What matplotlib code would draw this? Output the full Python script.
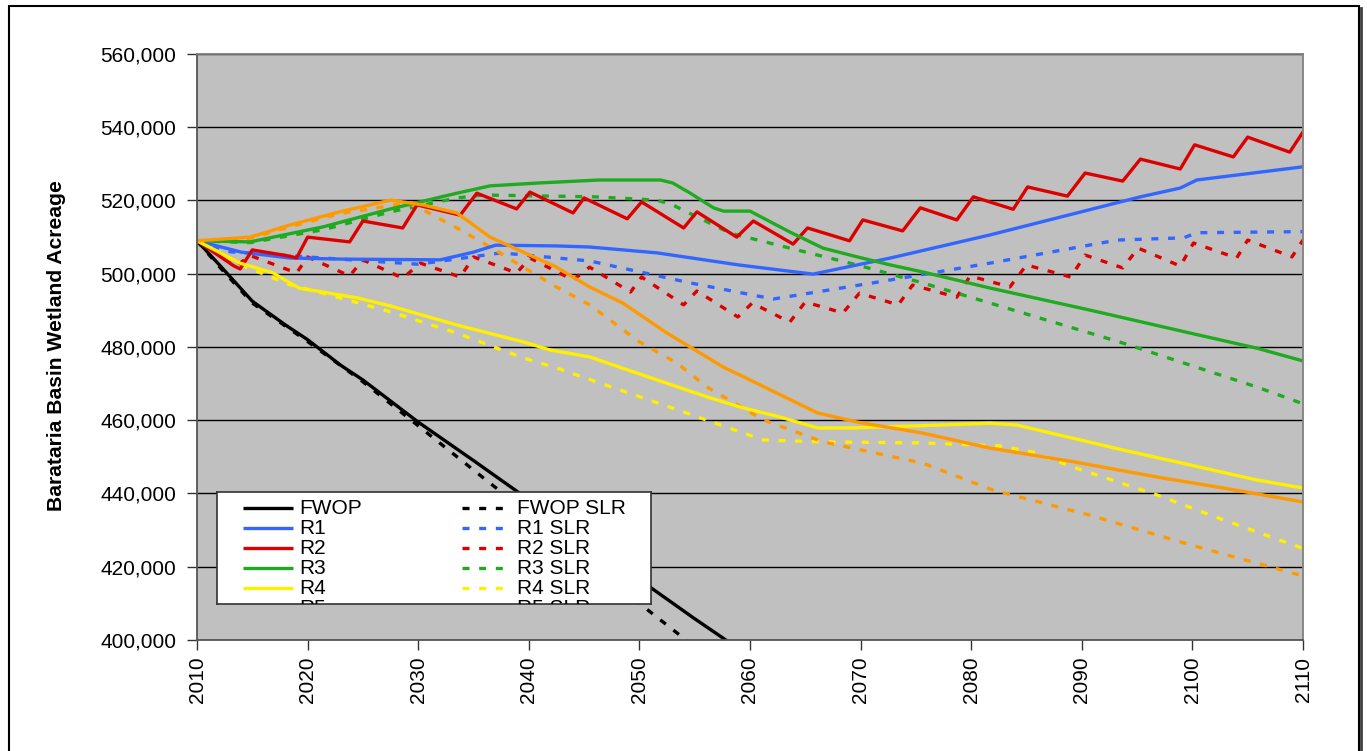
import matplotlib
matplotlib.use('Agg')
import matplotlib.pyplot as plt
from matplotlib.patches import Rectangle
from matplotlib.lines import Line2D
from matplotlib.ticker import FuncFormatter

plt.rcParams['font.family'] = ['Liberation Sans', 'DejaVu Sans']

# ---------------- data (acres) ----------------
fwop_years = [2010, 2012, 2015, 2018, 2020, 2023, 2025, 2030, 2035, 2040, 2045, 2050, 2055, 2060]
fwop = [509000, 502500, 492500, 486000, 482000, 475000, 471000, 459500, 449000, 438300, 427800, 416500, 405800, 395500]

fwop_slr_years = [2010, 2012, 2015, 2020, 2025, 2030, 2036, 2040, 2045, 2050, 2054, 2056]
fwop_slr = [509000, 502000, 492000, 481500, 470500, 458500, 444000, 434500, 422000, 410000, 400500, 396000]

r1_years = [2010, 2014, 2018.4, 2023, 2032, 2035, 2037, 2042.5, 2045.5, 2051.6, 2059, 2065.7, 2072.7,
            2081.7, 2095.3, 2098.9, 2100.4, 2110]
r1 = [509000, 505900, 504300, 504000, 503800, 505900, 507800, 507600, 507300, 505700, 502400, 499900, 504300,
      510600, 521000, 523400, 525600, 529200]

r1_slr_years = [2010, 2013, 2021.4, 2030, 2037.5, 2045.5, 2054.6, 2062.1, 2071.1, 2081.7, 2093.2, 2099.2,
                2100.4, 2110]
r1_slr = [509000, 506000, 504300, 502600, 505700, 503500, 497500, 493100, 497500, 502900, 509200, 509800,
          511200, 511500]

r2_years = [2010, 2013.3, 2013.9, 2015, 2018.4, 2019, 2020, 2023.8, 2025, 2028.6, 2029.9, 2033.8, 2035.3,
            2038.9, 2040.1, 2044, 2045, 2048.9, 2050.2, 2054, 2055.2, 2058.8, 2060.3, 2063.9, 2065.2, 2069,
            2070.2, 2073.8, 2075.4, 2078.7, 2080.2, 2083.8, 2085.1, 2088.7, 2090.3, 2093.7, 2095.3, 2098.9,
            2100.2, 2103.7, 2105, 2108.8, 2110]
r2 = [509000, 502200, 501300, 506500, 504800, 504300, 510000, 508700, 514400, 512500, 518800, 516000, 522000,
      517700, 522300, 516600, 520700, 515000, 519600, 512500, 516900, 510000, 514400, 508100, 512500, 509000,
      514700, 511700, 518000, 514700, 521000, 517600, 523700, 521200, 527500, 525300, 531300, 528600,
      535200, 531900, 537300, 533200, 538700]

r2_slr_years = [2010, 2013.5, 2014.8, 2019, 2020, 2023.8, 2025, 2028.6, 2030.2, 2033.8, 2035, 2038.9, 2040.1,
                2044, 2045.5, 2049.2, 2050.2, 2054, 2055.2, 2058.9, 2060.2, 2063.6, 2065, 2068.4, 2069.9,
                2073.4, 2074.7, 2078.7, 2079.9, 2083.5, 2085, 2089, 2090.3, 2093.7, 2095.1, 2098.9, 2100.1,
                2104, 2105, 2109, 2110]
r2_slr = [509000, 502000, 505000, 500200, 504600, 499400, 503800, 498800, 502900, 499100, 504600, 500200,
          504300, 498300, 501800, 495000, 499100, 491500, 495300, 488200, 492000, 486800, 492300, 489300,
          494700, 491500, 496900, 493600, 499400, 496400, 502400, 499100, 505100, 501600, 507000, 502100,
          508400, 504300, 509200, 504600, 509200]

r3_years = [2010, 2014.8, 2021.4, 2027.5, 2033.5, 2036.5, 2041, 2046.4, 2051.9, 2053, 2054.6, 2056.7, 2057.6,
            2060, 2061.2, 2063.6, 2066.6, 2069.7, 2072.7, 2075.6, 2081.7, 2090.7, 2099.8, 2105.8, 2110]
r3 = [509000, 508700, 512800, 517700, 522000, 524000, 524800, 525600, 525600, 524800, 522000, 518000, 517100,
      517100, 515200, 511400, 507000, 504600, 502400, 500500, 496100, 490100, 483800, 479700, 476200]

r3_slr_years = [2010, 2014.8, 2021.4, 2027.5, 2033.5, 2035.9, 2046, 2051.6, 2053, 2058.2, 2063.6, 2069.7,
                2075.6, 2081.7, 2093.7, 2105.8, 2110]
r3_slr = [509000, 508500, 512000, 516900, 520700, 521500, 521000, 520100, 518800, 511100, 507000, 502400,
          497500, 492000, 481100, 469100, 464500]

r4_years = [2010, 2013.9, 2016.9, 2018.4, 2019.3, 2021.4, 2024.5, 2027.5, 2033.5, 2039.5, 2041.9, 2045.5,
            2051.6, 2056.1, 2059.1, 2062.7, 2066.1, 2069.3, 2077.2, 2081.7, 2084.1, 2089.2, 2093.7, 2099.8,
            2105.8, 2110]
r4 = [509000, 502900, 500200, 497500, 496000, 495000, 493400, 491200, 486000, 481400, 479200, 477300,
      471000, 466400, 463600, 460900, 457900, 457900, 458700, 459200, 458700, 455100, 451900, 447800,
      443700, 441500]

r4_slr_years = [2010, 2013.9, 2018.4, 2021.4, 2027.5, 2033.5, 2039.5, 2042.5, 2046.2, 2053, 2061.2, 2066.6,
                2075.6, 2082.6, 2085.6, 2089.2, 2096.8, 2102.8, 2110]
r4_slr = [509000, 502500, 497000, 494700, 489600, 483800, 477000, 474300, 470400, 463300, 454600, 454100,
          453800, 453000, 451300, 447200, 439600, 432800, 425000]

r5_years = [2010, 2014.8, 2018.4, 2022.9, 2027.5, 2030.4, 2033.5, 2036.5, 2039.5, 2042.5, 2045.5, 2048.5,
            2052.5, 2057.6, 2060, 2066.1, 2069.7, 2075.6, 2081.7, 2089.2, 2096.8, 2102.8, 2110]
r5 = [509000, 510000, 513300, 516900, 520100, 518800, 516600, 510000, 505900, 501800, 496400, 492000,
      483800, 474500, 471000, 462000, 459500, 456500, 452400, 448700, 444500, 441500, 437700]

r5_slr_years = [2010, 2014.8, 2018.4, 2022.9, 2029, 2030.4, 2033.5, 2036.5, 2039.5, 2042.5, 2045.5, 2050,
                2053.4, 2056.1, 2061.2, 2066.6, 2075.6, 2082, 2090.7, 2099.8, 2110]
r5_slr = [509000, 509700, 512800, 516400, 519300, 517500, 512500, 507300, 501800, 496400, 491500, 481400,
          475600, 469100, 460100, 454100, 448300, 440900, 434100, 426000, 417500]

base_names = ['FWOP', 'R1', 'R2', 'R3', 'R4', 'R5']
slr_names = ['FWOP SLR', 'R1 SLR', 'R2 SLR', 'R3 SLR', 'R4 SLR', 'R5 SLR']
colors = ['#000000', '#3366FF', '#DD0000', '#1FAA1F', '#FFF000', '#FF9900']

base_series = [(fwop_years, fwop), (r1_years, r1), (r2_years, r2), (r3_years, r3), (r4_years, r4), (r5_years, r5)]
slr_series = [(fwop_slr_years, fwop_slr), (r1_slr_years, r1_slr), (r2_slr_years, r2_slr),
              (r3_slr_years, r3_slr), (r4_slr_years, r4_slr), (r5_slr_years, r5_slr)]

x_ticks = list(range(2010, 2111, 10))
y_ticks = list(range(400000, 560001, 20000))
y_label = 'Barataria Basin Wetland Acreage'

# ---------------- figure ----------------
W, H = 1367, 751
fig = plt.figure(figsize=(W / 100, H / 100), dpi=100)


def px_rect(l, t, r, b):
    return [l / W, 1 - b / H, (r - l) / W, (b - t) / H]


LW = 2.4
DASH = (2.1, 2.9)

ax = fig.add_axes(px_rect(197, 54, 1303, 640))
ax.set_facecolor('#C0C0C0')
ax.set_axisbelow(True)
ax.yaxis.grid(True, color='black', lw=1.0)
ax.xaxis.grid(False)

for (xs, ys), c in zip(slr_series, colors):
    ln, = ax.plot(xs, ys, color=c, lw=LW)
    ln.set_dashes(DASH)
    ln.set_dash_capstyle('butt')
for (xs, ys), c in zip(base_series, colors):
    ax.plot(xs, ys, color=c, lw=LW, solid_joinstyle='round')

ax.set_xlim(2010, 2110)
ax.set_ylim(400000, 560000)
ax.set_xticks(x_ticks)
ax.set_yticks(y_ticks)
ax.yaxis.set_major_formatter(FuncFormatter(lambda v, p: f'{int(v):,}'))
ax.tick_params(axis='x', length=7, width=1, color='#333333', labelsize=15, labelrotation=90, pad=5)
ax.tick_params(axis='y', length=7, width=1, color='#333333', labelsize=15, pad=8)
for side in ['top', 'right']:
    ax.spines[side].set_color('#808080')
    ax.spines[side].set_linewidth(1.3)
for side in ['left', 'bottom']:
    ax.spines[side].set_color('#555555')
    ax.spines[side].set_linewidth(1.3)

fig.text(57 / W, 1 - 346 / H, y_label, rotation=90, ha='center', va='center',
         fontsize=15.2, fontweight='bold')

# ---------------- legend (clipped, as in the original) ----------------
lg = fig.add_axes(px_rect(217, 492, 651, 604))
lg.set_xlim(217, 651)
lg.set_ylim(604, 492)
lg.set_xticks([])
lg.set_yticks([])
lg.set_facecolor('white')
for s in lg.spines.values():
    s.set_color('#333333')
    s.set_linewidth(1.2)
row0, step = 507.7, 20.0
for i in range(6):
    yy = row0 + i * step
    lg.plot([243, 293], [yy, yy], color=colors[i], lw=LW, solid_capstyle='butt', clip_on=True)
    lg.text(299, yy + 6.5, base_names[i], fontsize=15, va='baseline', ha='left', clip_on=True)
    dl, = lg.plot([462, 512], [yy, yy], color=colors[i], lw=LW, clip_on=True)
    dl.set_dashes(DASH)
    dl.set_dash_capstyle('butt')
    lg.text(517, yy + 6.5, slr_names[i], fontsize=15, va='baseline', ha='left', clip_on=True)

# ---------------- outer chart border ----------------
fig.patches.append(Rectangle((8.5 / W, -0.05), (1359 - 8.5) / W, (751 - 6) / H + 0.05,
                             transform=fig.transFigure, fill=False, edgecolor='black', lw=1.5))
fig.lines.append(Line2D([1361 / W, 1361 / W], [-0.05, 1 - 8 / H], transform=fig.transFigure,
                        color='#404040', lw=2))

fig.savefig('out.png', dpi=100)
